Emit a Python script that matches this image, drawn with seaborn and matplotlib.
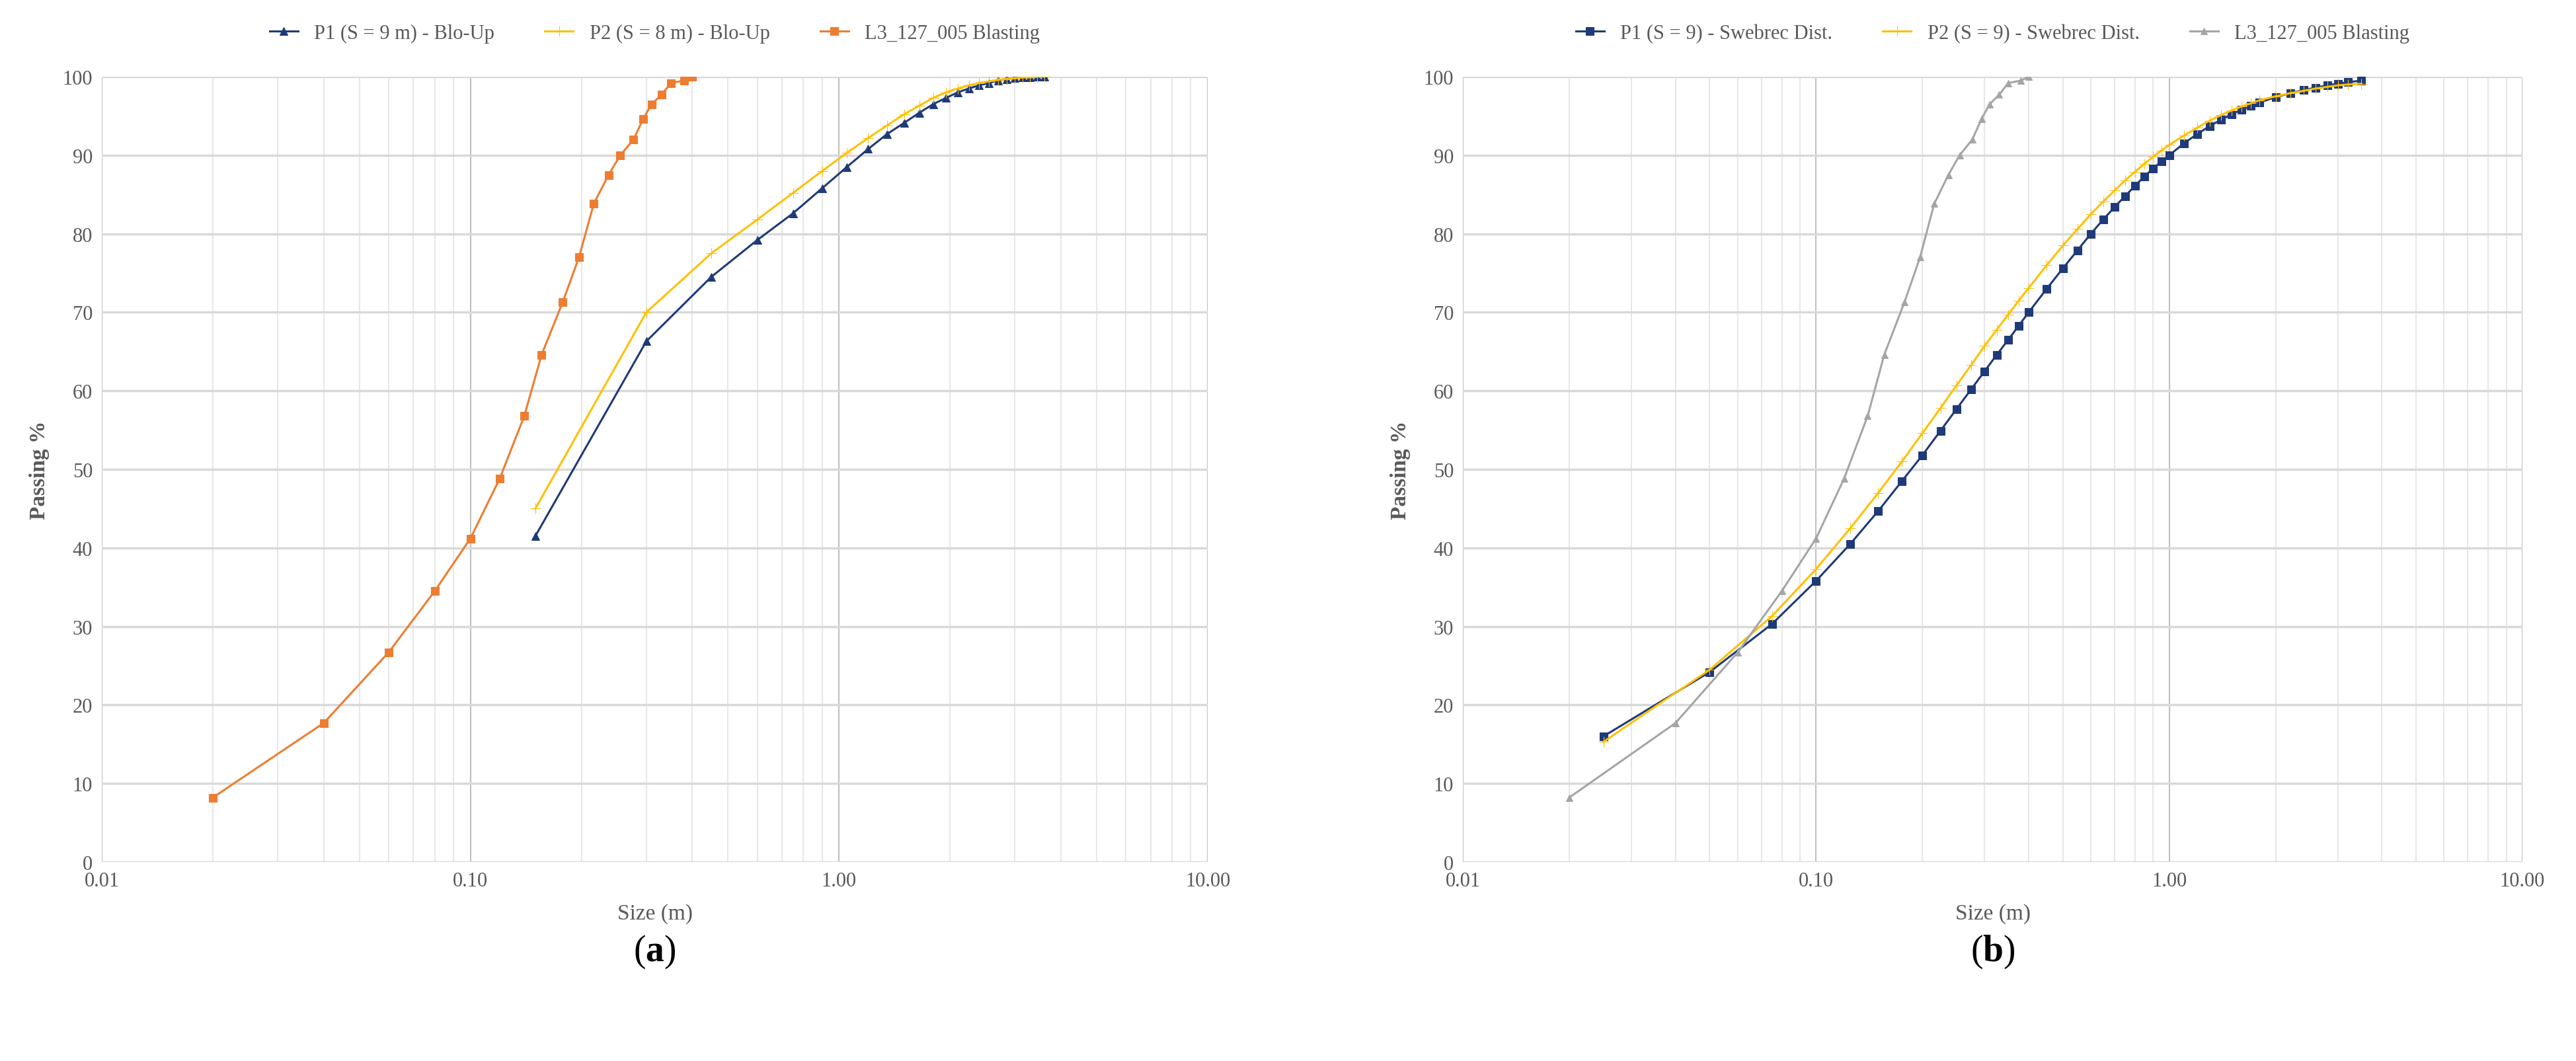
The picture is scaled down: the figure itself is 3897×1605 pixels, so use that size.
import matplotlib
matplotlib.use("Agg")
import matplotlib.pyplot as plt
import seaborn as sns
import numpy as np
from matplotlib.ticker import FixedLocator, LogLocator, NullFormatter

plt.rcParams["font.family"] = "Liberation Serif"
plt.rcParams["mathtext.fontset"] = "custom"
plt.rcParams["mathtext.rm"] = "Liberation Serif"
plt.rcParams["mathtext.bf"] = "Liberation Serif:bold"

# ---- data ----
l3_size = [0.02, 0.04, 0.06, 0.08, 0.10, 0.12, 0.14, 0.156, 0.178, 0.197, 0.216, 0.237,
           0.255, 0.277, 0.294, 0.31, 0.33, 0.35, 0.38, 0.40]
l3_pass = [8.2, 17.7, 26.7, 34.5, 41.2, 48.8, 56.8, 64.6, 71.3, 77.0, 83.8, 87.5,
           90.0, 92.0, 94.6, 96.5, 97.7, 99.2, 99.5, 100.0]

bu_size = [0.15, 0.30, 0.45, 0.60, 0.75, 0.90, 1.05, 1.20, 1.35, 1.50, 1.65, 1.80, 1.95,
           2.10, 2.25, 2.40, 2.55, 2.70, 2.85, 3.00, 3.15, 3.30, 3.45, 3.60]
bu_p1 = [41.5, 66.3, 74.5, 79.2, 82.6, 85.8, 88.5, 90.8, 92.7, 94.1, 95.4, 96.5, 97.3,
         98.0, 98.5, 98.9, 99.2, 99.5, 99.7, 99.8, 99.9, 99.9, 100.0, 100.0]
bu_p2 = [45.0, 70.0, 77.5, 81.8, 85.2, 88.0, 90.3, 92.2, 93.8, 95.2, 96.3, 97.3, 98.0,
         98.5, 98.9, 99.2, 99.4, 99.6, 99.7, 99.8, 99.9, 99.9, 100.0, 100.0]

sw_size = [0.025, 0.05, 0.075, 0.1, 0.125, 0.15, 0.175, 0.2, 0.225, 0.25, 0.275, 0.3,
           0.325, 0.35, 0.375, 0.4, 0.45, 0.5, 0.55, 0.6, 0.65, 0.7, 0.75, 0.8, 0.85,
           0.9, 0.95, 1.0, 1.1, 1.2, 1.3, 1.4, 1.5, 1.6, 1.7, 1.8, 2.0, 2.2, 2.4, 2.6,
           2.8, 3.0, 3.2, 3.5]
sw_p1 = [16.0, 24.2, 30.3, 35.8, 40.5, 44.7, 48.5, 51.8, 54.9, 57.7, 60.2, 62.5, 64.6,
         66.5, 68.3, 70.0, 73.0, 75.6, 77.9, 80.0, 81.8, 83.4, 84.8, 86.1, 87.3, 88.3,
         89.2, 90.0, 91.5, 92.7, 93.7, 94.5, 95.2, 95.8, 96.3, 96.7, 97.4, 97.9, 98.3,
         98.6, 98.9, 99.1, 99.3, 99.5]
sw_p2 = [15.3, 24.5, 31.3, 37.3, 42.5, 47.0, 51.0, 54.6, 57.8, 60.7, 63.3, 65.7, 67.8,
         69.7, 71.5, 73.1, 76.0, 78.5, 80.6, 82.5, 84.1, 85.5, 86.8, 87.9, 88.9, 89.8,
         90.6, 91.3, 92.5, 93.5, 94.4, 95.1, 95.7, 96.2, 96.6, 97.0, 97.5, 97.9, 98.2,
         98.5, 98.7, 98.9, 99.0, 99.1]

x_ticks = [0.01, 0.1, 1, 10]
x_ticklabels = ["0.01", "0.10", "1.00", "10.00"]

NAVY = "#1F3A78"
GOLD = "#FFC000"
ORANGE = "#ED7D31"
GRAY = "#A5A5A5"

fig = plt.figure(figsize=(38.98, 16.06), dpi=100)
axA = fig.add_axes([154/3898, 1 - 1305/1606, (1827-154)/3898, (1305-117)/1606])
axB = fig.add_axes([2213/3898, 1 - 1305/1606, (3816-2213)/3898, (1305-117)/1606])

def line(ax, x, y, color, marker, label, ms=8, lw=2.2):
    sns.lineplot(x=x, y=y, ax=ax, color=color, marker=marker, markersize=ms, lw=lw,
                 markeredgecolor=color, label=label, sort=False, estimator=None)

line(axA, bu_size, bu_p1, NAVY, "^", "P1 (S = 9 m) - Blo-Up")
line(axA, bu_size, bu_p2, GOLD, "+", "P2 (S = 8 m) - Blo-Up", ms=12)
line(axA, l3_size, l3_pass, ORANGE, "s", "L3_127_005 Blasting")

line(axB, sw_size, sw_p1, NAVY, "s", "P1 (S = 9) - Swebrec Dist.")
line(axB, sw_size, sw_p2, GOLD, "+", "P2 (S = 9) - Swebrec Dist.", ms=12)
line(axB, l3_size, l3_pass, GRAY, "^", "L3_127_005 Blasting", ms=7)

for ax, lab in [(axA, "a"), (axB, "b")]:
    ax.set_xscale("log")
    ax.set_xlim(0.01, 10)
    ax.set_ylim(0, 100)
    ax.xaxis.set_major_locator(FixedLocator(x_ticks))
    ax.set_xticklabels(x_ticklabels)
    ax.xaxis.set_minor_locator(LogLocator(base=10, subs=np.arange(2, 10)))
    ax.xaxis.set_minor_formatter(NullFormatter())
    ax.set_yticks(range(0, 101, 10))
    ax.grid(True, which="major", axis="y", color="#D9D9D9", lw=2.5)
    ax.grid(True, which="major", axis="x", color="#BFBFBF", lw=1.5)
    ax.grid(True, which="minor", axis="x", color="#E3E3E3", lw=1.2)
    ax.set_axisbelow(True)
    for s in ax.spines.values():
        s.set_visible(False)
    ax.tick_params(axis="both", which="both", length=0, labelsize=22, colors="#595959", pad=10)
    ax.set_xlabel("Size (m)", fontsize=24, color="#595959", labelpad=14)
    ax.set_ylabel("Passing %", fontsize=24, color="#595959", fontweight="bold", labelpad=14)
    ax.legend(loc="lower center", bbox_to_anchor=(0.5, 1.02), ncol=3, frameon=False,
              fontsize=22, handlelength=1.4, columnspacing=2.5, labelcolor="#595959")
    pos = ax.get_position()
    fig.text(pos.x0 + pos.width / 2, 1 - 1440/1606, r"($\mathbf{%s}$)" % lab,
             ha="center", va="center", fontsize=40)

fig.savefig("out.png", dpi=100, facecolor="white")
